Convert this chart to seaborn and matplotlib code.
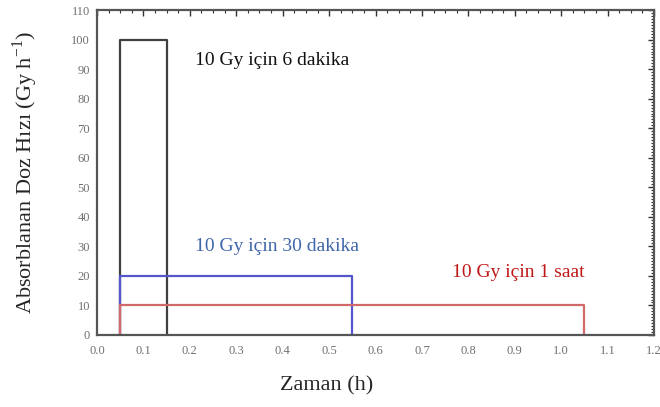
import numpy as np
import pandas as pd
import matplotlib
matplotlib.use("Agg")
import matplotlib.pyplot as plt
import seaborn as sns
from matplotlib.ticker import MultipleLocator

# irradiation schemes: start (h), end (h), dose rate (Gy/h)
labels = ["10 Gy için 6 dakika", "10 Gy için 30 dakika", "10 Gy için 1 saat"]
starts = [0.05, 0.05, 0.05]
ends = [0.15, 0.55, 1.05]
rates = [100, 20, 10]
colors = ["#404040", "#5555cc", "#d06a6a"]
text_colors = ["#111111", "#3f66a8", "#c01818"]
text_x = [0.211, 0.211, 0.765]
text_y = [93, 30, 21]

rows = []
for lab, s, e, r in zip(labels, starts, ends, rates):
    for i, (x, y) in enumerate([(s, 0), (s, r), (e, r), (e, 0)]):
        rows.append({"scheme": lab, "order": i, "t": x, "rate": y})
df = pd.DataFrame(rows)

sns.set_style("white")
plt.rcParams["font.family"] = ["Liberation Serif", "DejaVu Serif"]

fig = plt.figure(figsize=(6.6, 4.07), dpi=100)
ax = fig.add_axes([0.147, 0.177, 0.844, 0.798])

sns.lineplot(data=df, x="t", y="rate", hue="scheme", units="scheme",
             estimator=None, sort=False, palette=colors, linewidth=1.6,
             legend=False, ax=ax)

for lab, x, y, c in zip(labels, text_x, text_y, text_colors):
    ax.text(x, y, lab, color=c, fontsize=14, va="center", ha="left")

ax.set_xlim(0, 1.2)
ax.set_ylim(0, 110)
ax.xaxis.set_major_locator(MultipleLocator(0.1))
ax.xaxis.set_minor_locator(MultipleLocator(0.025))
ax.yaxis.set_major_locator(MultipleLocator(10))
ax.yaxis.set_minor_locator(MultipleLocator(1))
ax.xaxis.set_major_formatter(matplotlib.ticker.FormatStrFormatter("%.1f"))
ax.tick_params(which="both", direction="in", top=True, right=True,
               color="#333333", labelcolor="#707070", labelsize=9)
ax.tick_params(which="major", length=4, width=1)
ax.tick_params(which="minor", length=2.5, width=0.8)
ax.tick_params(axis="x", which="major", pad=7)
ax.tick_params(axis="y", which="major", pad=5)
for sp in ax.spines.values():
    sp.set_color("#555555")
    sp.set_linewidth(1.6)

ax.set_xlabel("Zaman (h)", fontsize=16)
ax.set_ylabel("Absorblanan Doz Hızı (Gy h$^{\\mathregular{-1}}$)", fontsize=16)
ax.xaxis.set_label_coords(0.413, -0.126)
ax.yaxis.set_label_coords(-0.103, 0.5)

fig.savefig("out.png", dpi=100)
